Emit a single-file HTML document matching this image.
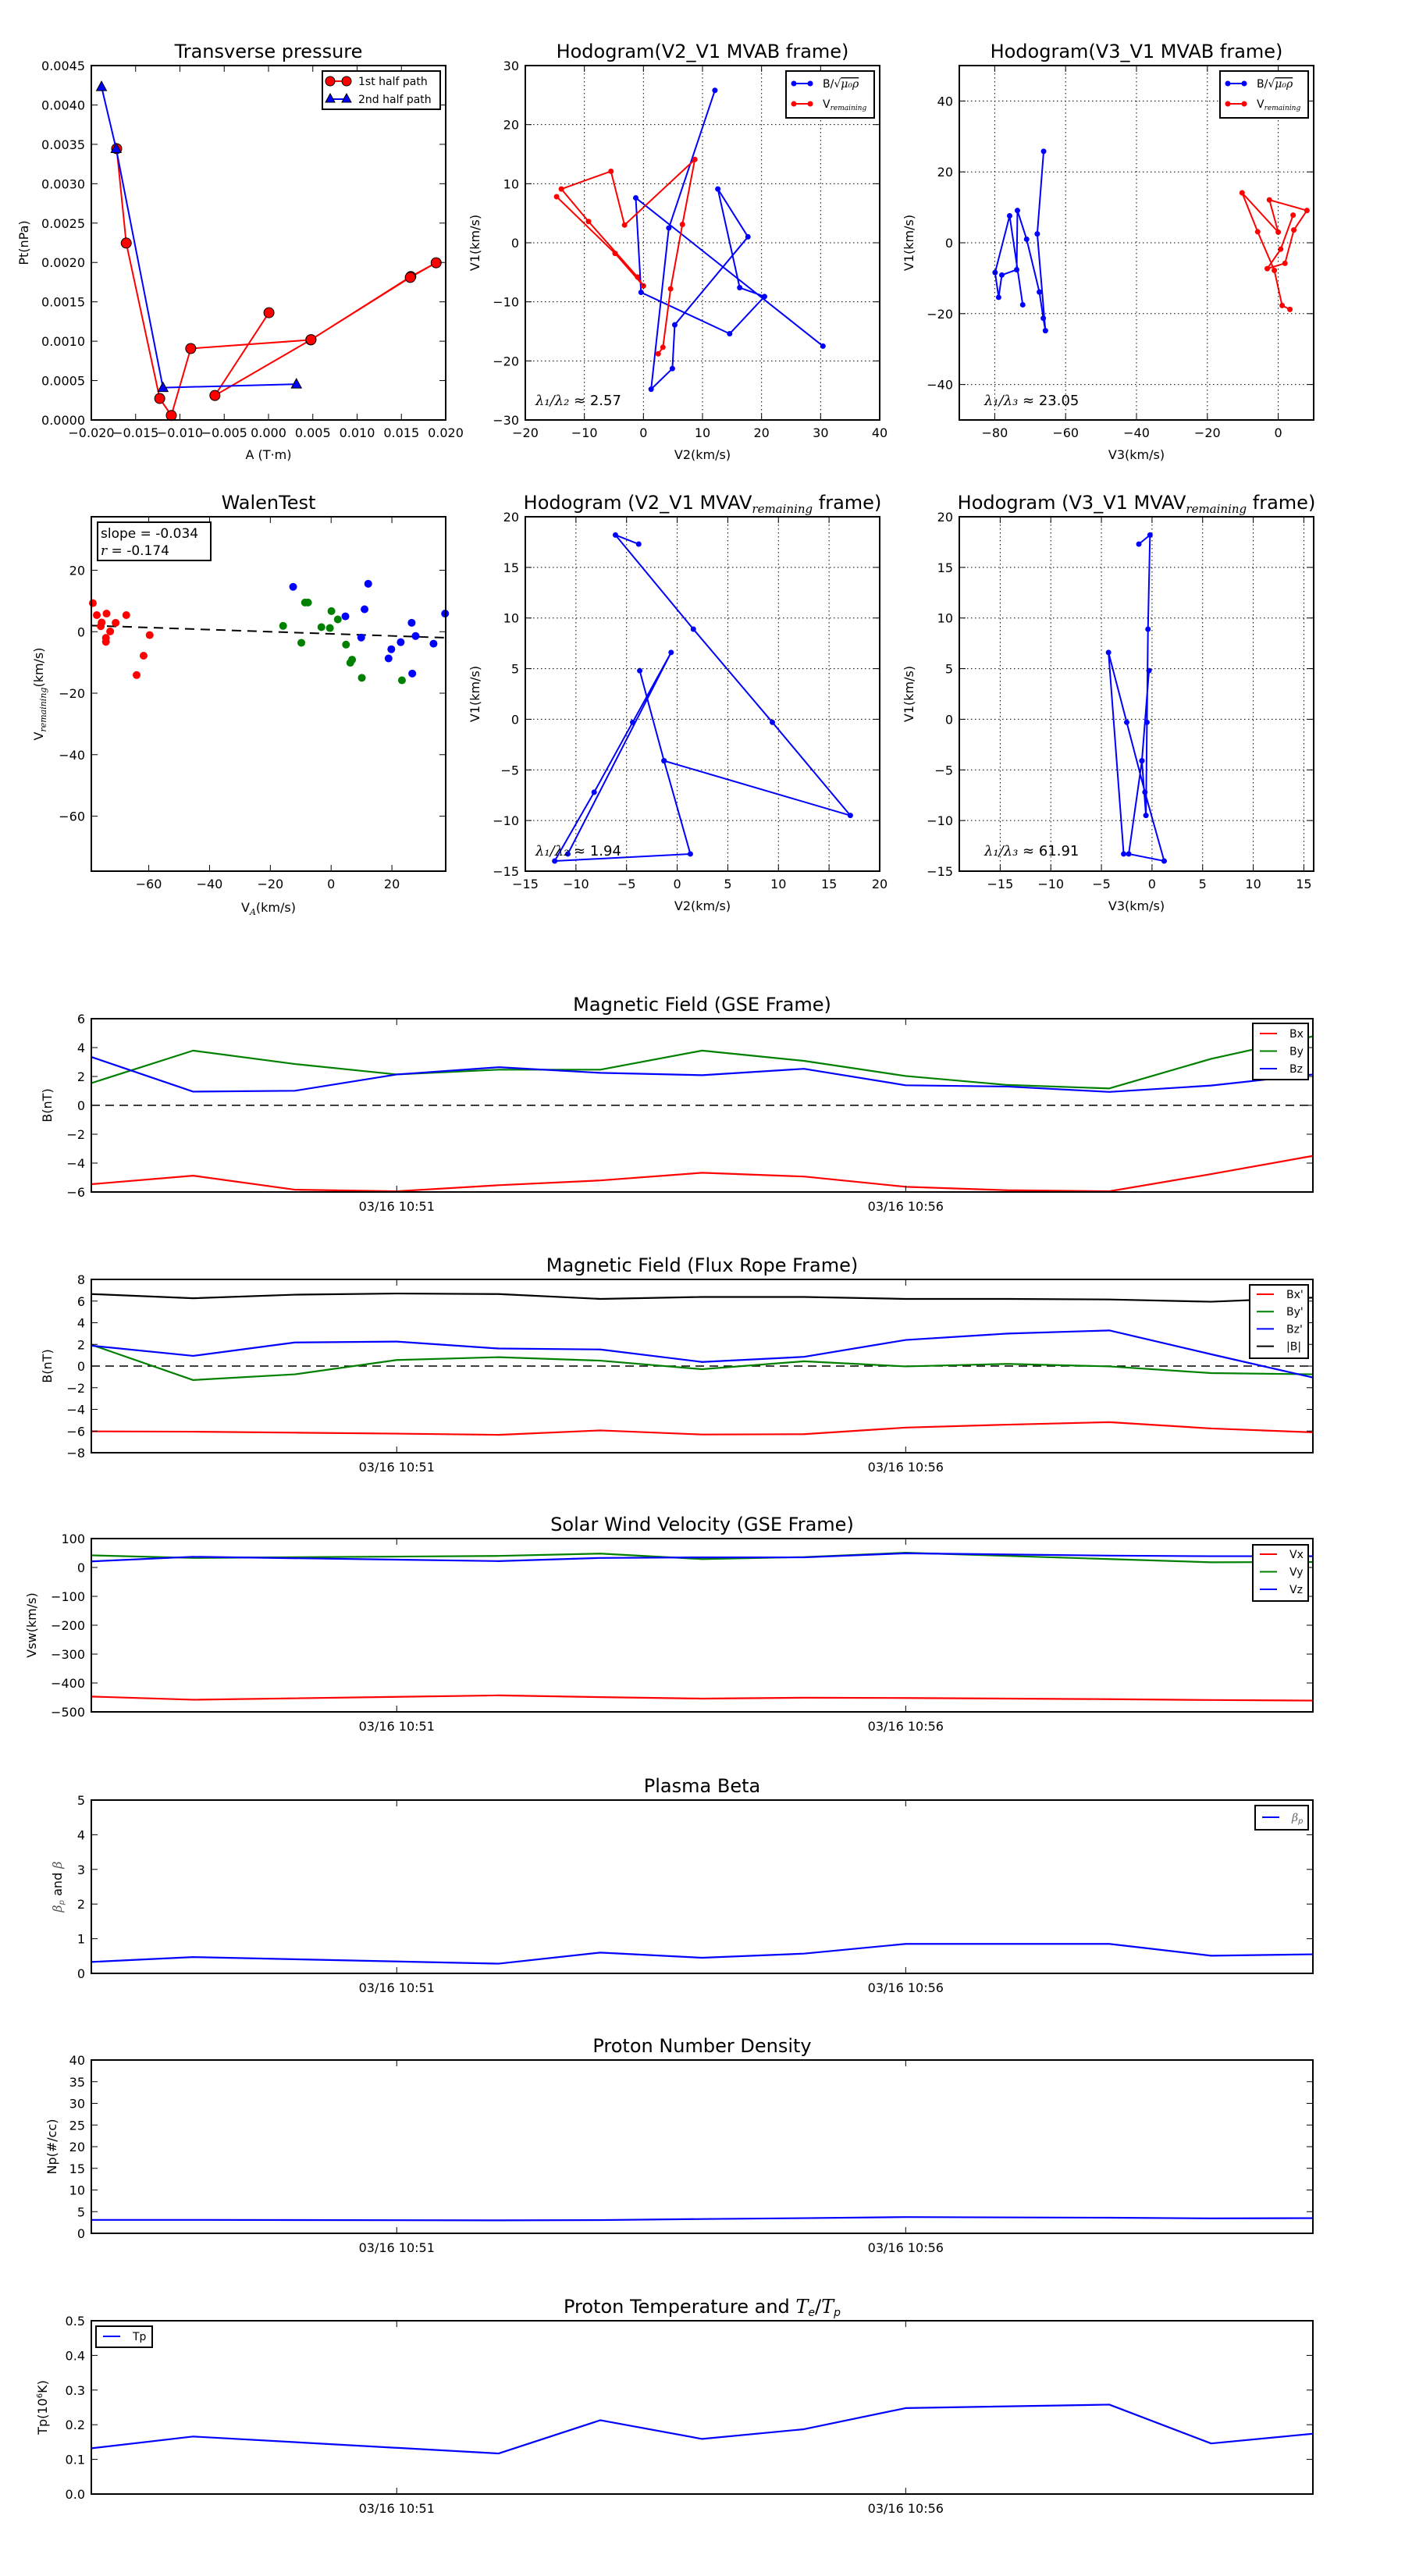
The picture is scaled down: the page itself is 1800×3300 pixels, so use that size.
<!DOCTYPE html>
<html><head><meta charset="utf-8"><title>Flux rope analysis</title>
<style>
html,body{margin:0;padding:0;background:#fff;}
svg{display:block;font-family:"DejaVu Sans","Liberation Sans",sans-serif;}
</style></head>
<body>
<svg id="fig" xmlns="http://www.w3.org/2000/svg" width="1800" height="3300" viewBox="0 0 1800 3300">
<rect x="0" y="0" width="1800" height="3300" fill="#fff"/>
</svg>
<script>
// ---------- DATA ----------
// Transverse pressure
const pt1A=[-0.01714,-0.01606,-0.01228,-0.01097,-0.00878,0.00477,0.01606,0.01892,0.01600,0.0048,-0.00605,0.00005];
const pt1P=[0.003445,0.002246,0.000273,0.000057,0.000907,0.001017,0.001821,0.001996,0.00181,0.00102,0.000311,0.001362];
const pt2A=[-0.01885,-0.0172,-0.01191,0.00315];
const pt2P=[0.004231,0.003445,0.00041,0.000455];
// MVAB hodograms
const mvabV1B=[25.8,2.5,-24.8,-21.3,-13.9,1.0,9.1,-7.6,-9.1,-15.4,-8.4,7.6,-17.5];
const mvabV2B=[12.1,4.3,1.3,4.9,5.3,17.7,12.6,16.3,20.5,14.6,-0.4,-1.3,30.4];
const mvabV3B=[-66.2,-68.0,-65.7,-66.3,-67.4,-71.0,-73.6,-73.8,-78.0,-78.9,-79.9,-75.8,-72.1];
const mvabV1R=[-18.8,-17.7,-7.8,3.1,14.1,3.0,12.1,9.1,3.6,-5.8,-7.3,-1.8,7.8];
const mvabV2R=[2.5,3.3,4.6,6.6,8.7,-3.2,-5.5,-13.9,-9.3,-1.0,0,-4.8,-14.7];
const mvabV3R=[3.3,1.1,-1.1,-5.8,-10.2,0,-2.5,8.1,4.4,1.9,-3.1,0.7,4.2];
// MVAV hodograms
const mvavV1=[17.3,18.2,8.9,-0.3,-9.5,-4.1,4.8,-4.1,-13.3,-14.0,-7.2,-0.3,6.6,-13.3];
const mvavV2=[-3.8,-6.1,1.6,9.4,17.1,-1.3,-3.7,-1.3,1.3,-12.1,-8.2,-4.4,-0.6,-10.8];
const mvavV3=[-1.3,-0.2,-0.4,-0.5,-0.6,-1.0,-0.3,-1.0,-2.3,1.2,-0.7,-2.5,-4.3,-2.8];
// Walen test
const walenRedX=[-78.4,-77.1,-75.5,-75.8,-73.9,-72.7,-74.1,-74.1,-70.9,-67.4,-64.0,-61.7,-59.7];
const walenRedY=[9.3,5.4,3.0,1.8,5.9,0.1,-2.0,-3.3,2.9,5.4,-14.1,-7.8,-1.1];
const walenGreenX=[-15.8,-9.8,-8.6,-7.6,-3.2,-0.4,0.1,2.2,4.9,6.3,6.9,10.1,23.3];
const walenGreenY=[1.9,-3.6,9.5,9.5,1.5,1.2,6.7,4.0,-4.2,-10.1,-9.1,-15.0,-15.8];
const walenBlueX=[-12.5,4.7,9.9,11.0,12.2,18.9,19.8,22.9,26.5,26.7,27.8,33.7,37.5];
const walenBlueY=[14.6,5.0,-1.9,7.3,15.6,-8.7,-5.7,-3.4,2.9,-13.6,-1.4,-3.9,5.9];
const walenSlope=-0.034, walenIntercept=-0.68;
// Time series (minutes after 10:48)
const gseT=[0,1,2,3,4,5,6,7,8,9,10,11,12];
const gseBx=[-5.46,-4.87,-5.84,-5.95,-5.53,-5.2,-4.67,-4.93,-5.64,-5.88,-5.95,-4.76,-3.5];
const gseBy=[1.54,3.79,2.86,2.14,2.47,2.47,3.79,3.08,2.03,1.41,1.17,3.22,4.78];
const gseBz=[3.35,0.95,1.01,2.14,2.64,2.25,2.09,2.53,1.39,1.3,0.93,1.37,2.14];
const frBx=[-6.03,-6.06,-6.15,-6.24,-6.35,-5.94,-6.32,-6.29,-5.68,-5.41,-5.18,-5.76,-6.12];
const frBy=[1.97,-1.29,-0.76,0.56,0.82,0.5,-0.29,0.44,-0.03,0.2,-0.03,-0.65,-0.76];
const frBz=[1.88,0.94,2.18,2.26,1.62,1.53,0.38,0.85,2.41,3.0,3.29,1.09,-1.06];
const frBt=[6.65,6.26,6.59,6.7,6.65,6.2,6.38,6.38,6.2,6.2,6.15,5.94,6.32];
const plT=[0,1,4,5,6,7,8,10,11,12];
const vx=[-447,-458,-443,-449,-454,-451,-452,-456,-459,-461];
const vy=[42,33,40,48,29,36,51,29,18,19];
const vz=[21,37,22,33,35,35,49,41,39,39];
const betaP=[0.33,0.47,0.28,0.6,0.45,0.57,0.85,0.85,0.51,0.55];
const np=[3.1,3.1,3.0,3.05,3.3,3.5,3.75,3.6,3.45,3.5];
const tp=[0.132,0.166,0.117,0.213,0.159,0.187,0.248,0.258,0.146,0.174];
const timeTicks=[3,8];
const timeTickLabels=["03/16 10:51","03/16 10:56"];

// ---------- HELPERS ----------
const NS='http://www.w3.org/2000/svg';
const svg=document.getElementById('fig');
function mk(tag,attrs,parent,name){
  const e=document.createElementNS(NS,tag);
  for(const k in attrs) e.setAttribute(k,attrs[k]);
  
  
  (parent||svg).appendChild(e);
  return e;
}
function txt(parent,x,y,s,size,name,anchor,extra){
  const t=mk('text',Object.assign({x:x,y:y,'font-size':size,'text-anchor':anchor||'middle',fill:'#000'},extra||{}),parent,name);
  t.textContent=s;
  return t;
}
function fmt(v,d){const s=Math.abs(v).toFixed(d);return (v<-1e-12?'\u2212':'')+s;}
function range(a,b,st){const r=[];for(let v=a;v<=b+1e-9;v+=st)r.push(+v.toFixed(6));return r;}

function axes(o){
  const g=mk('g',{},svg,o.name);
  const sx=v=>o.x0+(v-o.xmin)/(o.xmax-o.xmin)*(o.x1-o.x0);
  const sy=v=>o.y1-(v-o.ymin)/(o.ymax-o.ymin)*(o.y1-o.y0);
  const plot=mk('g',{},g,o.name+'-plot-area');
  const fs=o.fs||16;
  // grid
  if(o.grid){
    o.xt.forEach(v=>{mk('line',{x1:sx(v),x2:sx(v),y1:o.y0,y2:o.y1,stroke:'#000','stroke-width':1,'stroke-dasharray':'1.5,3.5'},g,'grid-line-x');});
    o.yt.forEach(v=>{mk('line',{x1:o.x0,x2:o.x1,y1:sy(v),y2:sy(v),stroke:'#000','stroke-width':1,'stroke-dasharray':'1.5,3.5'},g,'grid-line-y');});
  }
  // ticks
  o.xt.forEach((v,i)=>{
    const x=sx(v);
    mk('line',{x1:x,x2:x,y1:o.y1,y2:o.y1-8,stroke:'#000','stroke-width':1},g,'x-tick');
    mk('line',{x1:x,x2:x,y1:o.y0,y2:o.y0+8,stroke:'#000','stroke-width':1},g,'x-tick-top');
    txt(g,x,o.y1+(o.xlOff||22),o.xl?o.xl[i]:fmt(v,o.xd||0),fs,'x-tick-label');
  });
  o.yt.forEach(v=>{
    const y=sy(v);
    mk('line',{x1:o.x0,x2:o.x0+8,y1:y,y2:y,stroke:'#000','stroke-width':1},g,'y-tick');
    mk('line',{x1:o.x1,x2:o.x1-8,y1:y,y2:y,stroke:'#000','stroke-width':1},g,'y-tick-right');
    txt(g,o.x0-8,y+6,fmt(v,o.yd||0),fs,'y-tick-label','end');
  });
  if(o.title) {const t=txt(g,(o.x0+o.x1)/2,o.y0-10,'',o.tfs||24,'chart-title');o.title(t);}
  if(o.xlabel){txt(g,(o.x0+o.x1)/2,o.y1+50,o.xlabel,16,'x-axis-title');}
  if(o.ylabelFn){const t=txt(g,0,0,'',16,'y-axis-title','middle',{transform:`translate(${o.ylx},${(o.y0+o.y1)/2}) rotate(-90)`});o.ylabelFn(t);}
  return {g,plot,sx,sy,frame:()=>mk('rect',{x:o.x0,y:o.y0,width:o.x1-o.x0,height:o.y1-o.y0,fill:'none',stroke:'#000','stroke-width':2},g,'axes-frame')};
}
function ts(parent,s,opts){const t=mk('tspan',opts||{},parent,'text-span');t.textContent=s;return t;}
function plain(s){return t=>{t.textContent=s;};}
function polyline(ax,xs,ys,color,name,w){
  const pts=xs.map((x,i)=>ax.sx(x).toFixed(2)+','+ax.sy(ys[i]).toFixed(2)).join(' ');
  return mk('polyline',{points:pts,fill:'none',stroke:color,'stroke-width':w||2,'stroke-linejoin':'round'},ax.plot,name);
}
function dots(ax,xs,ys,color,r,name,edge){
  xs.forEach((x,i)=>{mk('circle',{cx:ax.sx(x),cy:ax.sy(ys[i]),r:r,fill:color,stroke:edge||'none','stroke-width':edge?1:0},ax.plot,name);});
}
function legendBox(x,y,w,h,name){return mk('rect',{x:x,y:y,width:w,height:h,fill:'#fff',stroke:'#000','stroke-width':2},svg,name);}

// ---------- PANEL 1: Transverse pressure ----------
{
const ax=axes({name:'transverse-pressure-chart',x0:117,x1:571,y0:84,y1:538,xmin:-0.02,xmax:0.02,ymin:0,ymax:0.0045,
  xt:range(-0.02,0.02,0.005),xd:3,yt:range(0,0.0045,0.0005),yd:4,title:plain('Transverse pressure'),xlabel:'A (T\u00b7m)',
  ylabelFn:plain('Pt(nPa)'),ylx:36});
polyline(ax,pt1A,pt1P,'#f00','first-half-path-line',2);
dots(ax,pt1A,pt1P,'#f00',6.5,'first-half-path-marker','#000');
polyline(ax,pt2A,pt2P,'#00f','second-half-path-line',2);
pt2A.forEach((a,i)=>{const x=ax.sx(a),y=ax.sy(pt2P[i]);
  mk('polygon',{points:`${x},${y-7} ${x-6.5},${y+5} ${x+6.5},${y+5}`,fill:'#00f',stroke:'#000','stroke-width':1},ax.plot,'second-half-path-marker');});
ax.frame();
legendBox(413,91,151,49,'pressure-legend');
mk('line',{x1:423,x2:444,y1:104,y2:104,stroke:'#f00','stroke-width':2},svg,'legend-line-first-half');
mk('circle',{cx:423,cy:104,r:6,fill:'#f00',stroke:'#000'},svg,'legend-marker-first-half');
mk('circle',{cx:444,cy:104,r:6,fill:'#f00',stroke:'#000'},svg,'legend-marker-first-half');
txt(svg,459,109,'1st half path',14,'legend-label-first-half','start');
mk('line',{x1:423,x2:444,y1:127,y2:127,stroke:'#00f','stroke-width':2},svg,'legend-line-second-half');
[423,444].forEach(x=>{mk('polygon',{points:`${x},${120} ${x-6},${131} ${x+6},${131}`,fill:'#00f',stroke:'#000'},svg,'legend-marker-second-half');});
txt(svg,459,132,'2nd half path',14,'legend-label-second-half','start');
}

function hodoLegend(x0,labelX){
  legendBox(x0,91,113,60,'hodogram-legend');
  mk('line',{x1:x0+10,x2:x0+31,y1:107,y2:107,stroke:'#00f','stroke-width':2},svg,'legend-line-b');
  mk('circle',{cx:x0+10,cy:107,r:3.5,fill:'#00f'},svg,'legend-marker-b');
  mk('circle',{cx:x0+31,cy:107,r:3.5,fill:'#00f'},svg,'legend-marker-b');
  const t1=txt(svg,labelX,112,'',14,'legend-label-b','start');
  ts(t1,'B/\u221a'); ts(t1,'\u03bc\u2080\u03c1',{'font-style':'italic','font-family':'DejaVu Serif,serif','text-decoration':'overline'});
  mk('line',{x1:x0+10,x2:x0+31,y1:133,y2:133,stroke:'#f00','stroke-width':2},svg,'legend-line-v');
  mk('circle',{cx:x0+10,cy:133,r:3.5,fill:'#f00'},svg,'legend-marker-v');
  mk('circle',{cx:x0+31,cy:133,r:3.5,fill:'#f00'},svg,'legend-marker-v');
  const t2=txt(svg,labelX,138,'',14,'legend-label-v','start');
  ts(t2,'V'); ts(t2,'remaining',{'font-size':9,'font-style':'italic','font-family':'DejaVu Serif,serif',dy:3});
}

// ---------- PANEL 2 ----------
{
const ax=axes({name:'hodogram-v2-v1-mvab',x0:673,x1:1127,y0:84,y1:538,xmin:-20,xmax:40,ymin:-30,ymax:30,grid:true,
  xt:range(-20,40,10),yt:range(-30,30,10),title:plain('Hodogram(V2_V1 MVAB frame)'),xlabel:'V2(km/s)',ylabelFn:plain('V1(km/s)'),ylx:614});
polyline(ax,mvabV2B,mvabV1B,'#00f','b-hodogram-line');dots(ax,mvabV2B,mvabV1B,'#00f',3.5,'b-hodogram-point');
polyline(ax,mvabV2R,mvabV1R,'#f00','v-hodogram-line');dots(ax,mvabV2R,mvabV1R,'#f00',3.5,'v-hodogram-point');
ax.frame();
const t=txt(svg,686,519,'',18,'eigenvalue-ratio','start');ts(t,'\u03bb\u2081/\u03bb\u2082',{'font-style':'italic','font-family':'DejaVu Serif,serif'});ts(t,' \u2248 2.57');
hodoLegend(1007,1054);
}
// ---------- PANEL 3 ----------
{
const ax=axes({name:'hodogram-v3-v1-mvab',x0:1229,x1:1683,y0:84,y1:538,xmin:-90,xmax:10,ymin:-50,ymax:50,grid:true,
  xt:range(-80,0,20),yt:range(-40,40,20),title:plain('Hodogram(V3_V1 MVAB frame)'),xlabel:'V3(km/s)',ylabelFn:plain('V1(km/s)'),ylx:1170});
polyline(ax,mvabV3B,mvabV1B,'#00f','b-hodogram-line');dots(ax,mvabV3B,mvabV1B,'#00f',3.5,'b-hodogram-point');
polyline(ax,mvabV3R,mvabV1R,'#f00','v-hodogram-line');dots(ax,mvabV3R,mvabV1R,'#f00',3.5,'v-hodogram-point');
ax.frame();
const t=txt(svg,1261,519,'',18,'eigenvalue-ratio','start');ts(t,'\u03bb\u2081/\u03bb\u2083',{'font-style':'italic','font-family':'DejaVu Serif,serif'});ts(t,' \u2248 23.05');
hodoLegend(1563,1610);
}
// ---------- PANEL 4: Walen ----------
{
const ax=axes({name:'walen-test-chart',x0:117,x1:571,y0:662,y1:1116,xmin:-78.9,xmax:37.7,ymin:-77.9,ymax:37.4,
  xt:range(-60,20,20),yt:range(-60,20,20),title:plain('WalenTest'),xlabel:'',
  ylabelFn:t=>{ts(t,'V');ts(t,'remaining',{'font-size':11,'font-style':'italic','font-family':'DejaVu Serif,serif',dy:4});ts(t,'(km/s)',{dy:-4});},ylx:55});
const lx=[ax.sx? -78.9:0, 37.7];
const ly=lx.map(x=>walenSlope*x+walenIntercept);
polyline(ax,lx,ly,'#000','walen-fit-line',2).setAttribute('stroke-dasharray','12,8');
dots(ax,walenRedX,walenRedY,'#f00',5,'walen-point-red');
dots(ax,walenGreenX,walenGreenY,'#008000',5,'walen-point-green');
dots(ax,walenBlueX,walenBlueY,'#00f',5,'walen-point-blue');
ax.frame();
const xl=txt(svg,344,1168,'',16,'x-axis-title');ts(xl,'V');ts(xl,'A',{'font-size':11,'font-style':'italic','font-family':'DejaVu Serif,serif',dy:4});ts(xl,'(km/s)',{dy:-4});
legendBox(125,669,145,49,'walen-stats-box');
txt(svg,129,689,'slope = -0.034',17,'walen-slope','start');
const r=txt(svg,129,711,'',17,'walen-r','start');ts(r,'r',{'font-style':'italic','font-family':'DejaVu Serif,serif'});ts(r,' = -0.174');
}
function mvavTitle(p){return t=>{ts(t,'Hodogram ('+p+' MVAV');ts(t,'remaining',{'font-size':15,'font-style':'italic','font-family':'DejaVu Serif,serif',dy:5});ts(t,' frame)',{dy:-5});};}
// ---------- PANEL 5 ----------
{
const ax=axes({name:'hodogram-v2-v1-mvav',x0:673,x1:1127,y0:662,y1:1116,xmin:-15,xmax:20,ymin:-15,ymax:20,grid:true,
  xt:range(-15,20,5),yt:range(-15,20,5),title:mvavTitle('V2_V1'),xlabel:'V2(km/s)',ylabelFn:plain('V1(km/s)'),ylx:614});
polyline(ax,mvavV2,mvavV1,'#00f','hodogram-line');dots(ax,mvavV2,mvavV1,'#00f',3.5,'hodogram-point');
ax.frame();
const t=txt(svg,686,1096,'',18,'eigenvalue-ratio','start');ts(t,'\u03bb\u2081/\u03bb\u2082',{'font-style':'italic','font-family':'DejaVu Serif,serif'});ts(t,' \u2248 1.94');
}
// ---------- PANEL 6 ----------
{
const ax=axes({name:'hodogram-v3-v1-mvav',x0:1229,x1:1683,y0:662,y1:1116,xmin:-19.04,xmax:15.97,ymin:-15,ymax:20,grid:true,
  xt:range(-15,15,5),yt:range(-15,20,5),title:mvavTitle('V3_V1'),xlabel:'V3(km/s)',ylabelFn:plain('V1(km/s)'),ylx:1170});
polyline(ax,mvavV3,mvavV1,'#00f','hodogram-line');dots(ax,mvavV3,mvavV1,'#00f',3.5,'hodogram-point');
ax.frame();
const t=txt(svg,1261,1096,'',18,'eigenvalue-ratio','start');ts(t,'\u03bb\u2081/\u03bb\u2083',{'font-style':'italic','font-family':'DejaVu Serif,serif'});ts(t,' \u2248 61.91');
}

// ---------- TIME SERIES ----------
function tsPanel(o){
  const ax=axes({name:o.name,x0:117,x1:1682,y0:o.top,y1:o.top+222,xmin:0,xmax:12,ymin:o.ymin,ymax:o.ymax,
    xt:timeTicks,xl:timeTickLabels,xlOff:24,yt:range(o.ymin,o.ymax,o.ystep),yd:o.yd||0,fs:16,
    title:o.title,ylabelFn:o.ylabel,ylx:o.ylx});
  if(o.zero){mk('line',{x1:117,x2:1682,y1:ax.sy(0),y2:ax.sy(0),stroke:'#000','stroke-width':1.5,'stroke-dasharray':'11,7'},ax.plot,'zero-line');}
  o.series.forEach(s=>polyline(ax,o.t,s.v,s.c,s.n,2.2));
  ax.frame();
  if(o.legend){
    const L=o.legend; legendBox(L.x,L.y,L.w,L.h,o.name+'-legend');
    o.series.forEach((s,i)=>{const y=L.y0+i*L.dy;
      mk('line',{x1:L.x+9,x2:L.x+31,y1:y,y2:y,stroke:s.c,'stroke-width':2},svg,'legend-line-'+s.n);
      const t=txt(svg,L.x+47,y+5,'',14,'legend-label-'+s.n,'start'); (s.lab)(t);});
  }
  return ax;
}
tsPanel({name:'magnetic-field-gse-chart',top:1305,ymin:-6,ymax:6,ystep:2,zero:true,t:gseT,
  title:plain('Magnetic Field (GSE Frame)'),ylabel:plain('B(nT)'),ylx:66,
  series:[{v:gseBx,c:'#f00',n:'bx',lab:plain('Bx')},{v:gseBy,c:'#008000',n:'by',lab:plain('By')},{v:gseBz,c:'#00f',n:'bz',lab:plain('Bz')}],
  legend:{x:1605,y:1311,w:71,h:72,y0:1324,dy:22.5}});
tsPanel({name:'magnetic-field-flux-rope-chart',top:1639,ymin:-8,ymax:8,ystep:2,zero:true,t:gseT,
  title:plain('Magnetic Field (Flux Rope Frame)'),ylabel:plain('B(nT)'),ylx:66,
  series:[{v:frBx,c:'#f00',n:'bx-prime',lab:plain("Bx'")},{v:frBy,c:'#008000',n:'by-prime',lab:plain("By'")},{v:frBz,c:'#00f',n:'bz-prime',lab:plain("Bz'")},{v:frBt,c:'#000',n:'b-magnitude',lab:plain('|B|')}],
  legend:{x:1601,y:1646,w:75,h:94,y0:1658,dy:22.2}});
tsPanel({name:'solar-wind-velocity-chart',top:1971,ymin:-500,ymax:100,ystep:100,t:plT,
  title:plain('Solar Wind Velocity (GSE Frame)'),ylabel:plain('Vsw(km/s)'),ylx:46,
  series:[{v:vx,c:'#f00',n:'vx',lab:plain('Vx')},{v:vy,c:'#008000',n:'vy',lab:plain('Vy')},{v:vz,c:'#00f',n:'vz',lab:plain('Vz')}],
  legend:{x:1605,y:1979,w:71,h:72,y0:1991,dy:22.5}});
tsPanel({name:'plasma-beta-chart',top:2306,ymin:0,ymax:5,ystep:1,t:plT,
  title:plain('Plasma Beta'),ylabel:t=>{ts(t,'\u03b2',{'font-style':'italic','font-family':'DejaVu Serif,serif',fill:'#555'});ts(t,'p',{'font-size':10,'font-style':'italic',dy:3,fill:'#555'});ts(t,' and ',{dy:-3});ts(t,'\u03b2',{'font-style':'italic','font-family':'DejaVu Serif,serif',fill:'#555'});},ylx:79,
  series:[{v:betaP,c:'#00f',n:'beta-p',lab:t=>{ts(t,'\u03b2',{'font-style':'italic','font-family':'DejaVu Serif,serif',fill:'#666'});ts(t,'p',{'font-size':10,'font-style':'italic',dy:3,fill:'#666'});}}],
  legend:{x:1608,y:2313,w:68,h:31,y0:2328,dy:0}});
tsPanel({name:'proton-density-chart',top:2639,ymin:0,ymax:40,ystep:5,t:plT,
  title:plain('Proton Number Density'),ylabel:plain('Np(#/cc)'),ylx:72,
  series:[{v:np,c:'#00f',n:'np',lab:plain('Np')}]});
tsPanel({name:'proton-temperature-chart',top:2973,ymin:0,ymax:0.5,ystep:0.1,yd:1,t:plT,
  title:t=>{ts(t,'Proton Temperature and ');ts(t,'T',{'font-style':'italic','font-family':'DejaVu Serif,serif'});ts(t,'e',{'font-size':14,'font-style':'italic',dy:4});ts(t,'/',{dy:-4});ts(t,'T',{'font-style':'italic','font-family':'DejaVu Serif,serif'});ts(t,'p',{'font-size':14,'font-style':'italic',dy:4});},
  ylabel:t=>{ts(t,'Tp(10');ts(t,'6',{'font-size':10,dy:-6});ts(t,'K)',{dy:6});},ylx:60,
  series:[{v:tp,c:'#00f',n:'tp',lab:plain('Tp')}],
  legend:{x:123,y:2980,w:72,h:27,y0:2993,dy:0}});
</script>
</body></html>
